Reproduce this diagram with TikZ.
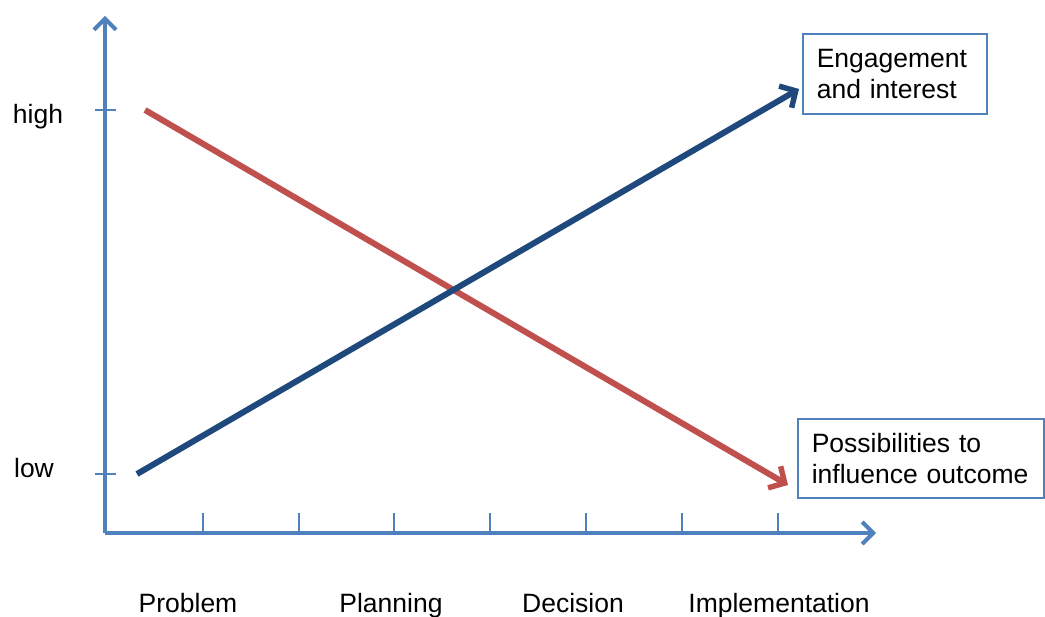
\documentclass[tikz,border=0pt]{standalone}
\usepackage{fontspec}
\setmainfont{Liberation Sans}
\usetikzlibrary{arrows.meta}
\definecolor{axisblue}{HTML}{4F81BD}
\definecolor{linered}{HTML}{C0504D}
\definecolor{linenavy}{HTML}{1F497D}
\begin{document}
\begin{tikzpicture}[x=1pt,y=-1pt,
  axis/.style={draw=axisblue,line width=4pt},
  axisarrow/.style={axis,-{Straight Barb[length=11pt,width=22pt,line width=4pt]}},
  tick/.style={draw=axisblue,line width=2.2pt},
  trend/.style={line width=6pt,-{Straight Barb[length=12pt,width=25pt,line width=5.5pt]}},
  label/.style={font=\fontsize{26.5}{30}\selectfont,inner sep=0pt,anchor=base},
  legendbox/.style={draw=axisblue,line width=1.6pt,fill=white,align=left,inner xsep=14pt,inner ysep=8pt,
    font=\fontsize{26.5}{31}\selectfont,anchor=north west}]
\useasboundingbox (0,0) rectangle (1045,617);
% axes
\coordinate (origin) at (105,533);
\coordinate (ytop) at (105,16);
\coordinate (xend) at (876,533);
\draw[axisarrow] (origin) -- (ytop);
\draw[axisarrow] (origin) -- (xend);
% value ticks
\foreach \yy in {110,474} \draw[tick] (95,\yy) -- (116,\yy);
% phase ticks
\foreach \xx in {203,299,394,490,586,682,778} \draw[tick] (\xx,533) -- (\xx,513);
% axis texts
\node[label] (high) at (38,124) {high};
\node[label] (low) at (34,478) {low};
\node[label] (problem) at (188,612) {Problem};
\node[label] (planning) at (391,612) {Planning};
\node[label] (decision) at (573,612) {Decision};
\node[label] (implementation) at (779,612) {Implementation};
% legend boxes
\node[legendbox,text width=156pt,minimum height=80pt] (engage) at (802,33) {Engagement\\and interest};
\node[legendbox,text width=218pt,minimum height=79pt] (possib) at (797,418) {Possibilities to\\influence outcome};
% trend lines
\coordinate (redstart) at (145,110);
\coordinate (redend) at (788,485);
\coordinate (bluestart) at (137,474);
\coordinate (blueend) at (799,89);
\draw[trend,draw=linered] (redstart) -- (redend);
\draw[trend,draw=linenavy] (bluestart) -- (blueend);
\end{tikzpicture}
\end{document}
